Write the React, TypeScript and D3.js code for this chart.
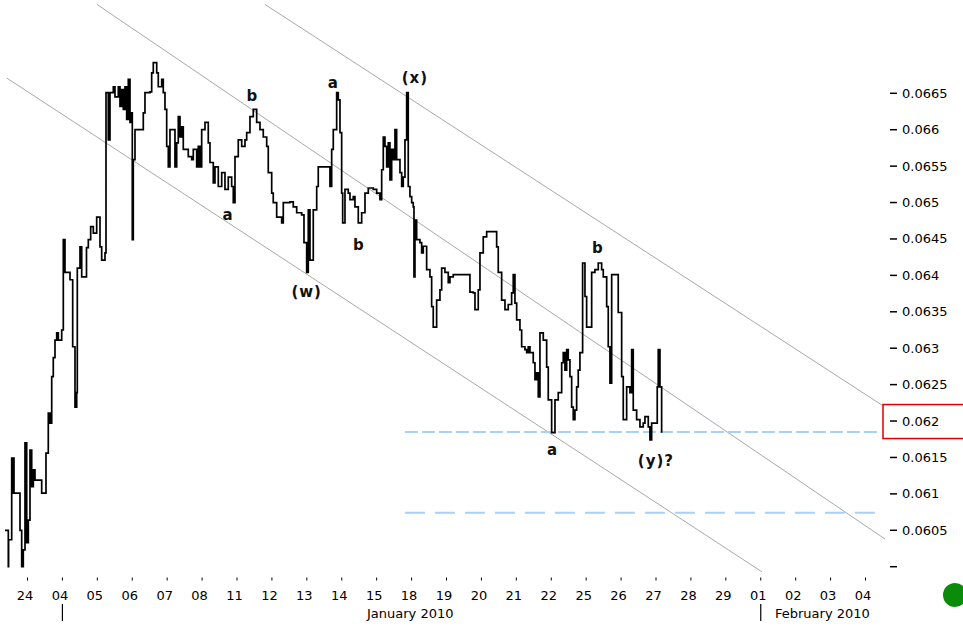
import React from "react";
import * as d3 from "d3";

const W = 963;
const H = 628;

// trading-day index (0 = 24 Dec) and price
const priceSeries: [number, number][] = [
  [-0.573, 0.0605], [-0.478, 0.06], [-0.47, 0.06037], [-0.381, 0.06149], [-0.364, 0.06101],
  [-0.338, 0.06149], [-0.315, 0.06101], [-0.192, 0.06101], [-0.143, 0.0605], [-0.095, 0.06],
  [-0.049, 0.06023], [0.0, 0.0617], [0.049, 0.06033], [0.095, 0.06064], [0.143, 0.0616],
  [0.192, 0.0611], [0.238, 0.06133], [0.286, 0.06119], [0.43, 0.06119], [0.478, 0.06101],
  [0.573, 0.06101], [0.601, 0.06156], [0.667, 0.06211], [0.716, 0.06197], [0.765, 0.06261],
  [0.81, 0.06287], [0.859, 0.06311], [0.908, 0.06321], [0.954, 0.06311], [1.051, 0.06325],
  [1.097, 0.06449], [1.145, 0.06404], [1.289, 0.06394], [1.366, 0.06302], [1.432, 0.06219],
  [1.481, 0.06239], [1.498, 0.0641], [1.575, 0.06439], [1.624, 0.06398], [1.747, 0.06398],
  [1.761, 0.06438], [1.813, 0.06449], [1.881, 0.06467], [1.956, 0.06458], [2.053, 0.0648],
  [2.148, 0.06439], [2.196, 0.06421], [2.291, 0.06431], [2.32, 0.06651], [2.385, 0.06586],
  [2.434, 0.06651], [2.529, 0.06659], [2.577, 0.06645], [2.672, 0.06659], [2.72, 0.06632],
  [2.769, 0.06655], [2.815, 0.06628], [2.864, 0.06659], [2.912, 0.06614], [2.958, 0.06669],
  [3.007, 0.0661], [3.036, 0.06623], [3.073, 0.06449], [3.101, 0.06559], [3.15, 0.066],
  [3.293, 0.066], [3.388, 0.06623], [3.436, 0.06651], [3.58, 0.06652], [3.628, 0.06678],
  [3.674, 0.06692], [3.772, 0.06678], [3.817, 0.06659], [3.915, 0.06669], [3.96, 0.06651],
  [4.009, 0.06628], [4.058, 0.06577], [4.104, 0.06549], [4.152, 0.066], [4.247, 0.066],
  [4.295, 0.06549], [4.344, 0.06582], [4.39, 0.06618], [4.439, 0.0659], [4.487, 0.06604],
  [4.533, 0.06573], [4.631, 0.06573], [4.676, 0.06563], [4.774, 0.06559], [4.82, 0.06573],
  [4.917, 0.06549], [4.963, 0.06577], [5.011, 0.06549], [5.06, 0.066], [5.155, 0.0661],
  [5.249, 0.06582], [5.298, 0.06555], [5.392, 0.06527], [5.441, 0.06549], [5.536, 0.06522],
  [5.633, 0.06541], [5.727, 0.06518], [5.822, 0.06535], [5.919, 0.06522], [5.965, 0.065],
  [6.014, 0.06563], [6.108, 0.06586], [6.206, 0.06577], [6.3, 0.06586], [6.349, 0.06596],
  [6.443, 0.06618], [6.538, 0.06628], [6.635, 0.0661], [6.73, 0.066], [6.824, 0.0659],
  [6.922, 0.06577], [6.967, 0.06541], [7.065, 0.06513], [7.11, 0.065], [7.208, 0.0648],
  [7.351, 0.06472], [7.397, 0.065], [7.589, 0.06501], [7.683, 0.06494], [7.781, 0.06486],
  [7.924, 0.06483], [7.99, 0.06445], [8.067, 0.06404], [8.113, 0.0649], [8.162, 0.06421],
  [8.256, 0.0649], [8.354, 0.06522], [8.399, 0.06549], [8.686, 0.06549], [8.734, 0.06522],
  [8.783, 0.06573], [8.829, 0.066], [8.926, 0.06651], [8.972, 0.06641], [9.021, 0.06596],
  [9.069, 0.06513], [9.098, 0.06472], [9.164, 0.06518], [9.258, 0.06513], [9.307, 0.06504],
  [9.401, 0.06508], [9.45, 0.06494], [9.545, 0.06472], [9.642, 0.06486], [9.737, 0.06513],
  [9.831, 0.0652], [9.974, 0.06518], [10.072, 0.06513], [10.166, 0.06504], [10.215, 0.06545],
  [10.261, 0.0659], [10.309, 0.06577], [10.358, 0.06549], [10.404, 0.06582], [10.452, 0.06531],
  [10.501, 0.06573], [10.547, 0.06559], [10.596, 0.066], [10.644, 0.06559], [10.739, 0.06541],
  [10.788, 0.06522], [10.833, 0.06535], [10.882, 0.06586], [10.931, 0.06651], [10.976, 0.06522],
  [11.025, 0.06508], [11.074, 0.065], [11.119, 0.06494], [11.14, 0.06398], [11.168, 0.06476],
  [11.217, 0.06449], [11.311, 0.06445], [11.36, 0.06431], [11.406, 0.0644], [11.503, 0.06408],
  [11.598, 0.06398], [11.646, 0.06357], [11.692, 0.06329], [11.789, 0.06366], [11.884, 0.0638],
  [11.933, 0.0641], [12.027, 0.06404], [12.122, 0.0639], [12.17, 0.06398], [12.265, 0.06401],
  [12.649, 0.06401], [12.743, 0.06377], [12.838, 0.06376], [12.887, 0.06353], [12.981, 0.0638],
  [13.03, 0.06431], [13.124, 0.06453], [13.222, 0.0646], [13.459, 0.0646], [13.508, 0.06439],
  [13.554, 0.06404], [13.651, 0.06366], [13.746, 0.06353], [13.84, 0.0636], [13.937, 0.06376],
  [13.983, 0.06401], [14.032, 0.06362], [14.081, 0.06339], [14.175, 0.06325], [14.224, 0.06302],
  [14.318, 0.06298], [14.367, 0.06294], [14.413, 0.06302], [14.462, 0.06294], [14.556, 0.0628],
  [14.605, 0.06257], [14.654, 0.06266], [14.7, 0.06233], [14.748, 0.06321], [14.843, 0.06311],
  [14.94, 0.06274], [14.986, 0.06229], [15.083, 0.06184], [15.178, 0.06229], [15.272, 0.06239],
  [15.37, 0.0628], [15.415, 0.06294], [15.464, 0.0627], [15.513, 0.06298], [15.558, 0.06284],
  [15.607, 0.06261], [15.656, 0.06219], [15.702, 0.06202], [15.75, 0.06215], [15.799, 0.06247],
  [15.845, 0.0627], [15.893, 0.06294], [15.97, 0.06417], [16.037, 0.06371], [16.085, 0.06329],
  [16.18, 0.06329], [16.229, 0.06404], [16.323, 0.06408], [16.418, 0.06417], [16.515, 0.06408],
  [16.561, 0.06398], [16.659, 0.06357], [16.704, 0.06302], [16.753, 0.06252], [16.802, 0.06401],
  [16.945, 0.06401], [16.99, 0.06349], [17.088, 0.06261], [17.134, 0.06202], [17.231, 0.06247],
  [17.325, 0.06239], [17.374, 0.06298], [17.42, 0.06215], [17.517, 0.06202], [17.612, 0.06192],
  [17.706, 0.06197], [17.755, 0.06206], [17.85, 0.06192], [17.898, 0.06174], [17.947, 0.06197],
  [18.09, 0.06197], [18.107, 0.06247], [18.136, 0.06298], [18.185, 0.06247], [18.233, 0.06184],
];

// channel lines: [start, end] as [dayIndex, price]
const channelLines: [[number, number], [number, number]][] = [
  [[-0.524, 0.06671], [21.105, 0.05993]],
  [[2.062, 0.06772], [24.66, 0.06037]],
  [[6.873, 0.06772], [24.57, 0.06221]],
];

// horizontal support levels
const levelPrices = [0.06185, 0.06074];
const levelStart = 10.88;
const levelEnd = 24.48;

const waveLabels: { text: string; t: number; p: number }[] = [
  { text: "b", t: 6.515, p: 0.066389 },
  { text: "a", t: 5.813, p: 0.064764 },
  { text: "(w)", t: 8.067, p: 0.063706 },
  { text: "a", t: 8.829, p: 0.066573 },
  { text: "b", t: 9.565, p: 0.064351 },
  { text: "(x)", t: 11.168, p: 0.066646 },
  { text: "a", t: 15.106, p: 0.061535 },
  { text: "b", t: 16.409, p: 0.06431 },
  { text: "(y)?", t: 18.07, p: 0.061384 },
];

const dayLabels = [
  "24", "04", "05", "06", "07", "08", "11", "12", "13", "14", "15", "18", "19",
  "20", "21", "22", "25", "26", "27", "28", "29", "01", "02", "03", "04",
];
const monthLabels: { text: string; t: number }[] = [
  { text: "January 2010", t: 1 },
  { text: "February 2010", t: 21 },
];
const yTicks = [
  0.06, 0.0605, 0.061, 0.0615, 0.062, 0.0625, 0.063, 0.0635, 0.064, 0.0645, 0.065,
  0.0655, 0.066, 0.0665,
];
const highlightedPrice = 0.062;

export default function App() {
  const x = d3.scaleLinear().domain([0, 24]).range([25, 863]);
  const y = d3.scaleLinear().domain([0.06, 0.0665]).range([566.7, 93.3]);

  const line = d3
    .line<[number, number]>()
    .x((d) => x(d[0]))
    .y((d) => y(d[1]))
    .curve(d3.curveStepAfter);

  const font = "'DejaVu Sans', Verdana, sans-serif";
  const fmt = (v: number) => (v === 0.06 ? "" : String(+v.toFixed(4)));

  return (
    <svg
      width={W}
      height={H}
      style={{ position: "absolute", left: 0, top: 0, background: "#fff" }}
      fontFamily={font}
    >
      <defs>
        <clipPath id="plotClip">
          <rect x={5} y={3} width={880} height={569} />
        </clipPath>
      </defs>
      <rect x={0} y={0} width={W} height={H} fill="#fff" />

      {/* channel lines */}
      <g clipPath="url(#plotClip)">
        {channelLines.map((c, i) => (
          <line
            key={i}
            x1={x(c[0][0])}
            y1={y(c[0][1])}
            x2={x(c[1][0])}
            y2={y(c[1][1])}
            stroke="#a8a8a8"
            strokeWidth={1}
          />
        ))}
      </g>

      {/* horizontal dashed levels */}
      {levelPrices.map((p, i) => (
        <line
          key={i}
          x1={x(levelStart)}
          x2={x(levelEnd)}
          y1={y(p)}
          y2={y(p)}
          stroke="#a9d0f5"
          strokeWidth={2}
          strokeDasharray={i === 0 ? "13,4" : "20,10"}
        />
      ))}

      {/* price */}
      <path d={line(priceSeries) || ""} fill="none" stroke="#000" strokeWidth={1.7} />

      {/* wave labels */}
      {waveLabels.map((l, i) => (
        <text
          key={i}
          x={x(l.t)}
          y={y(l.p)}
          textAnchor="middle"
          fontSize={15}
          fontWeight="bold"
          letterSpacing={1}
          fill="#111"
        >
          {l.text}
        </text>
      ))}

      {/* right axis */}
      {yTicks.map((v, i) => (
        <g key={i}>
          <line x1={890} x2={897} y1={y(v)} y2={y(v)} stroke="#000" strokeWidth={1.5} />
          <text x={902} y={y(v) + 4.5} fontSize={13} fill="#000">
            {fmt(v)}
          </text>
        </g>
      ))}
      <rect
        x={883}
        y={y(highlightedPrice) - 16.5}
        width={100}
        height={34}
        fill="none"
        stroke="#e00000"
        strokeWidth={1.5}
      />

      {/* bottom axis */}
      {dayLabels.map((d, i) => (
        <g key={i}>
          <line x1={x(i) + 2.5} x2={x(i) + 2.5} y1={577.5} y2={580.5} stroke="#000" strokeWidth={1} />
          <text x={x(i)} y={600} textAnchor="middle" fontSize={13} fill="#000">
            {d}
          </text>
        </g>
      ))}
      {monthLabels.map((m, i) => (
        <line
          key={"s" + i}
          x1={x(m.t) + 2.5}
          x2={x(m.t) + 2.5}
          y1={604}
          y2={621}
          stroke="#000"
          strokeWidth={1.2}
        />
      ))}
      <text x={367} y={617.5} fontSize={13} fill="#000">
        {monthLabels[0].text}
      </text>
      <text x={775} y={617.5} fontSize={13} fill="#000">
        {monthLabels[1].text}
      </text>

      {/* status dot */}
      <circle cx={955} cy={595} r={12} fill="#0a8c0a" />
    </svg>
  );
}
